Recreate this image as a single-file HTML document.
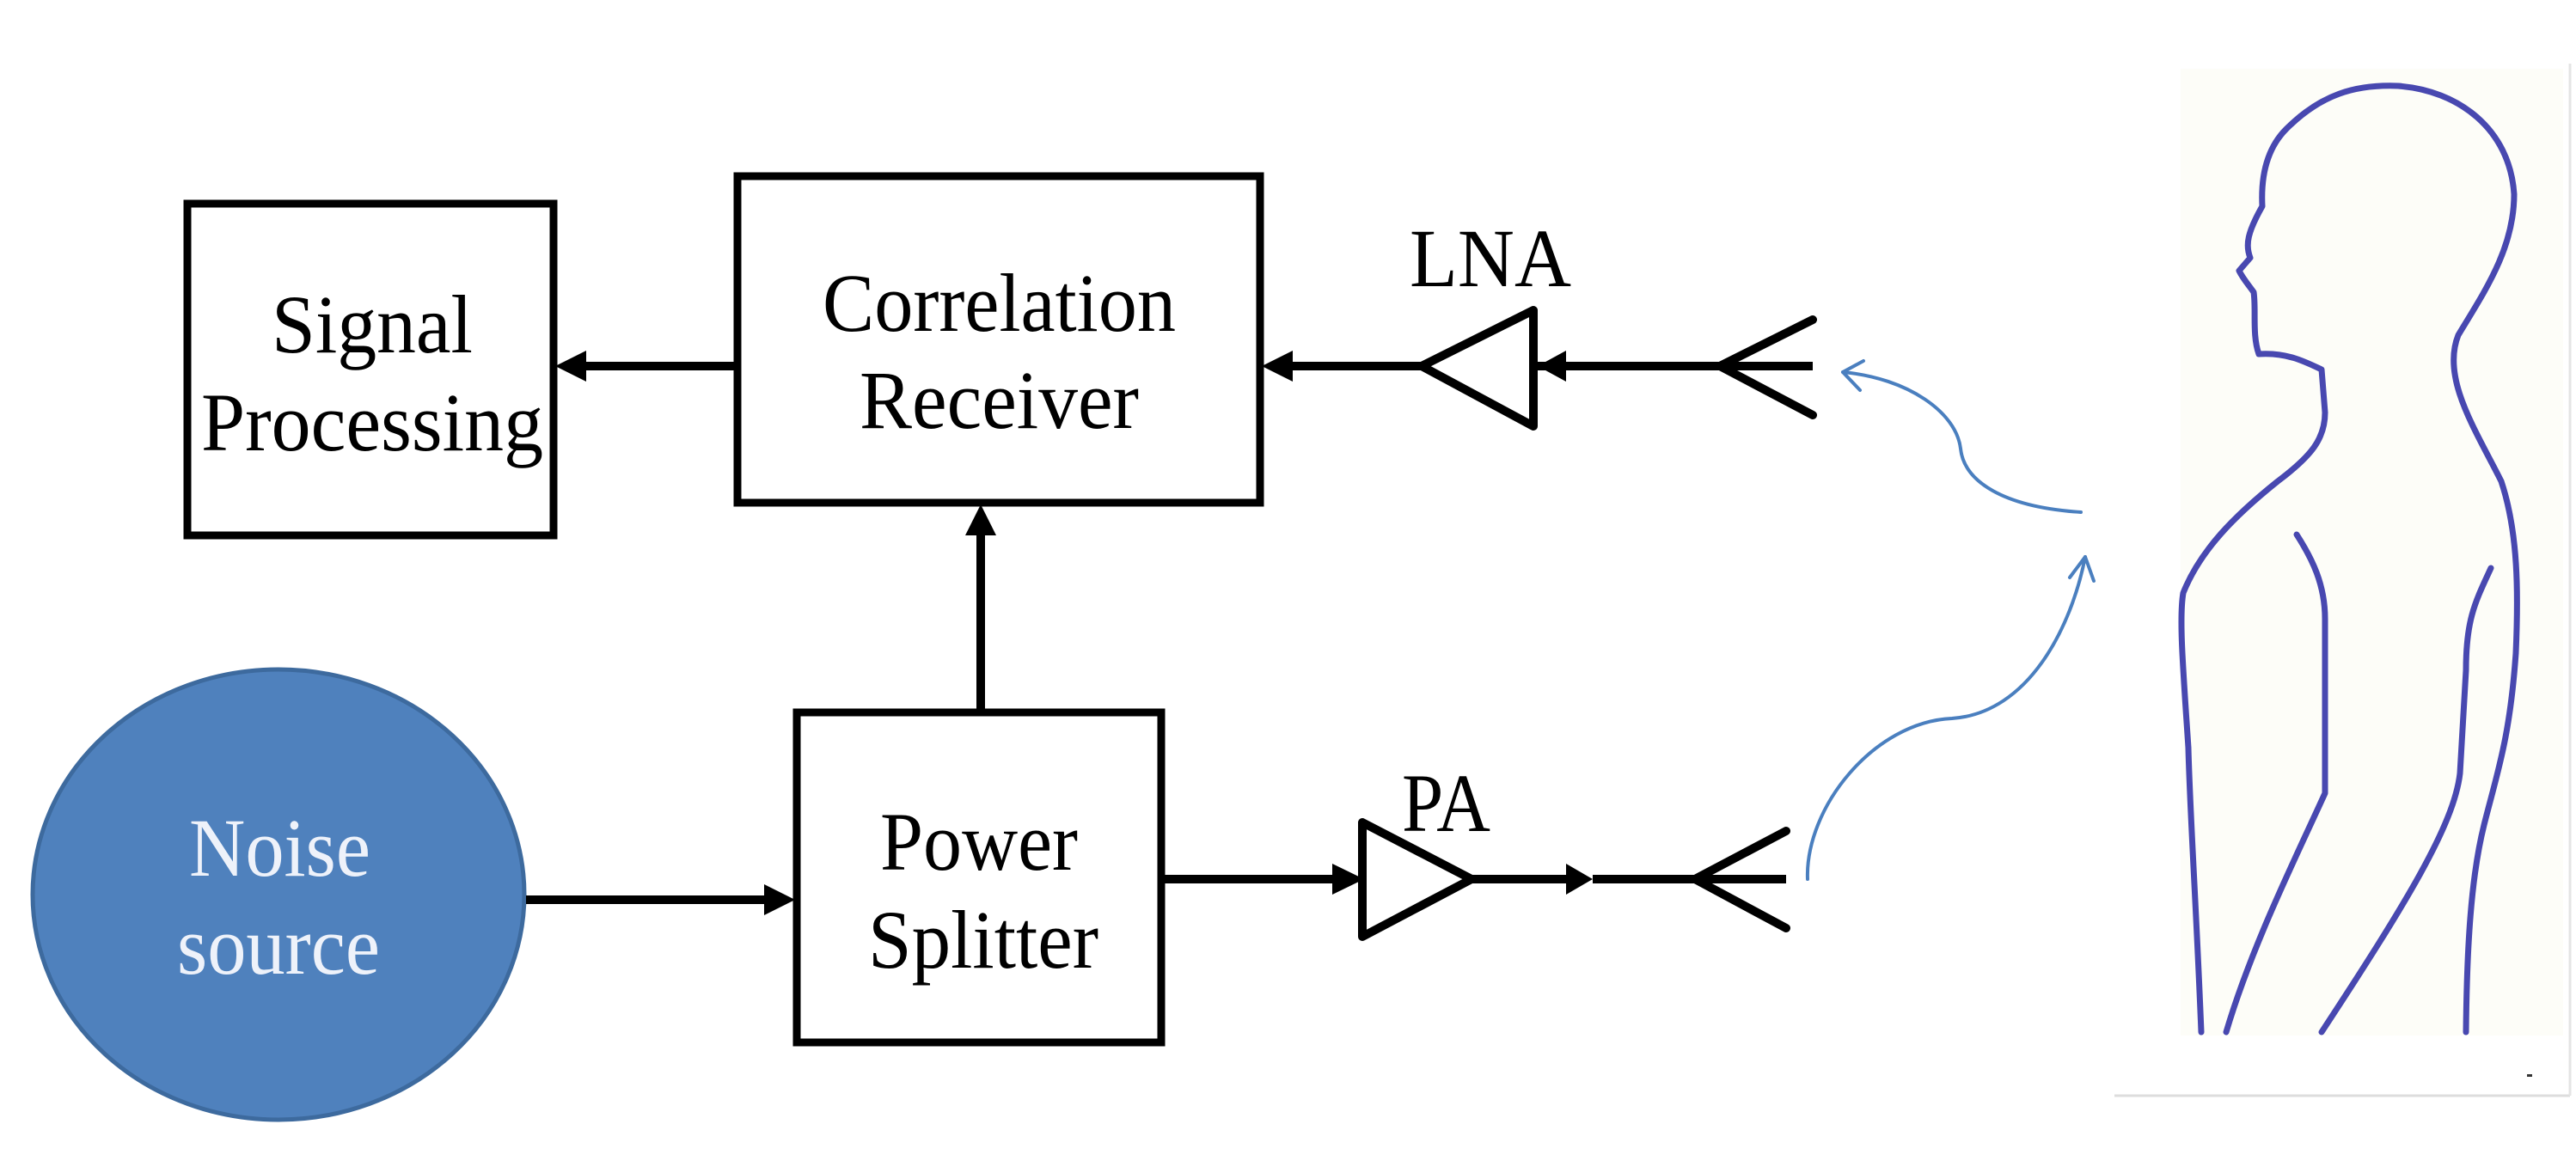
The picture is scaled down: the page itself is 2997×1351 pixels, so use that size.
<!DOCTYPE html>
<html><head><meta charset="utf-8"><style>
html,body{margin:0;padding:0;background:#fff;}
svg{display:block;}
text{font-family:"Liberation Serif",serif;}
</style></head><body>
<svg width="2997" height="1351" viewBox="0 0 2997 1351" xmlns="http://www.w3.org/2000/svg">
<rect width="2997" height="1351" fill="#fff"/>
<g fill="none" stroke="#000" stroke-width="9">
<rect x="218" y="237" width="426" height="386"/>
<rect x="858" y="205" width="608" height="380"/>
<rect x="927" y="829" width="424" height="384"/>
</g>
<ellipse cx="324" cy="1041" rx="286" ry="262" fill="#4f81bd" stroke="#3d6a9e" stroke-width="5"/>
<g font-size="96" fill="#000" lengthAdjust="spacingAndGlyphs">
<text x="316" y="410" textLength="234" lengthAdjust="spacingAndGlyphs">Signal</text>
<text x="234" y="524" textLength="398" lengthAdjust="spacingAndGlyphs">Processing</text>
<text x="957" y="385" textLength="411" lengthAdjust="spacingAndGlyphs">Correlation</text>
<text x="1000" y="498" textLength="325" lengthAdjust="spacingAndGlyphs">Receiver</text>
<text x="1024" y="1012" textLength="230" lengthAdjust="spacingAndGlyphs">Power</text>
<text x="1010" y="1126" textLength="268" lengthAdjust="spacingAndGlyphs">Splitter</text>
<text x="1640" y="333" textLength="188" lengthAdjust="spacingAndGlyphs">LNA</text>
<text x="1631" y="967" textLength="103" lengthAdjust="spacingAndGlyphs">PA</text>
</g>
<g font-size="96" fill="#eef2fa">
<text x="220" y="1019" textLength="211" lengthAdjust="spacingAndGlyphs">Noise</text>
<text x="206" y="1133" textLength="236" lengthAdjust="spacingAndGlyphs">source</text>
</g>
<g stroke="#000" stroke-width="10" fill="none">
<line x1="856" y1="426" x2="680" y2="426"/>
<line x1="1141" y1="827" x2="1141" y2="620"/>
<line x1="612" y1="1047" x2="892" y2="1047"/>
<line x1="1351" y1="1023" x2="1552" y2="1023"/>
<line x1="1712" y1="1023" x2="1825" y2="1023"/>
<line x1="1853" y1="1023" x2="2078" y2="1023"/>
<line x1="1972" y1="1023" x2="2078" y2="967" stroke-linecap="round"/>
<line x1="1972" y1="1023" x2="2078" y2="1080" stroke-linecap="round"/>
<polygon points="1585,957 1585,1090 1712,1023" stroke-linejoin="round"/>
<line x1="1654" y1="426" x2="1500" y2="426"/>
<line x1="1784" y1="426" x2="2109" y2="426"/>
<line x1="2001" y1="426" x2="2109" y2="372" stroke-linecap="round"/>
<line x1="2001" y1="426" x2="2109" y2="483" stroke-linecap="round"/>
<polygon points="1784,361 1784,496 1654,426" stroke-linejoin="round"/>
</g>
<g fill="#000">
<polygon points="646,426 682,408 682,444"/>
<polygon points="1141,587 1123,623 1159,623"/>
<polygon points="925,1047 889,1029 889,1065"/>
<polygon points="1587,1023 1550,1005 1550,1041"/>
<polygon points="1853,1023 1822,1005 1822,1041"/>
<polygon points="1468,426 1504,408 1504,444"/>
<polygon points="1789,426 1822,408 1822,444"/>
</g>
<g fill="none" stroke="#4a7fbf" stroke-width="4" stroke-linecap="round">
<path d="M2421,596 C2330,590 2285,560 2281,522 C2276,480 2220,440 2144,433"/>
<path d="M2144,433 L2168,420 M2144,433 L2164,454"/>
<path d="M2103,1023 C2100,940 2180,840 2271,836 C2360,830 2410,730 2426,648"/>
<path d="M2426,648 L2408,672 M2426,648 L2436,676"/>
</g>
<line x1="2460" y1="1275" x2="2990" y2="1275" stroke="#ddd" stroke-width="3"/>
<line x1="2990" y1="74" x2="2990" y2="1275" stroke="#e4e4e4" stroke-width="3"/>
<rect x="2537" y="80" width="445" height="1125" fill="#fdfdf8"/>
<g fill="none" stroke="#4848b0" stroke-width="7" stroke-linejoin="round" stroke-linecap="round">
<path d="M2561,1201 C2555,1050 2548,950 2546,870 C2540,780 2535,720 2540,690 C2560,640 2600,600 2650,560 C2690,530 2705,510 2705,480 L2701,430 C2680,420 2660,410 2628,412 C2620,390 2625,360 2622,340 C2615,330 2610,325 2605,315 L2618,300 C2612,285 2615,270 2632,240 C2630,200 2640,170 2660,150 C2700,110 2740,98 2790,100 C2860,105 2920,150 2925,226 C2925,290 2890,340 2860,390 C2840,440 2880,500 2910,560 C2930,620 2930,690 2927,760 C2920,860 2905,900 2890,960 C2875,1020 2870,1100 2869,1201"/>
<path d="M2672,622 C2690,650 2705,680 2705,720 L2705,923 C2670,1000 2620,1100 2590,1201"/>
<path d="M2898,661 C2880,700 2869,720 2869,780 L2862,900 C2855,960 2800,1050 2701,1201"/>
</g>
<rect x="2940" y="1250" width="6" height="3" fill="#333"/>
</svg>
</body></html>
